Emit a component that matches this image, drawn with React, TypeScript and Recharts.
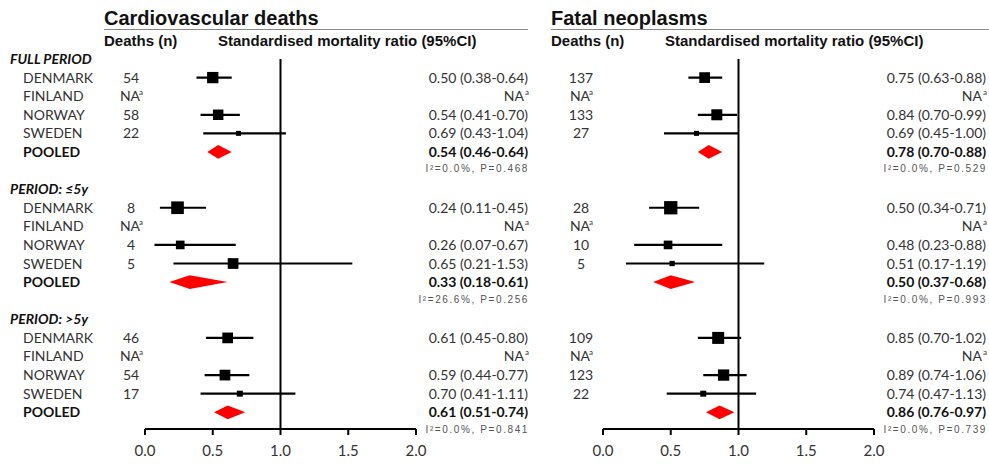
import React from 'react';
import { ComposedChart, Scatter, Area, XAxis, YAxis, ZAxis, ErrorBar, ReferenceLine } from 'recharts';

const countries = ['DENMARK', 'FINLAND', 'NORWAY', 'SWEDEN'];
const periods = ['FULL PERIOD', 'PERIOD: \u22645y', 'PERIOD: >5y'];
const xTicks = [0, 0.5, 1, 1.5, 2];

// Cardiovascular deaths
const cvDeaths = [[54, null, 58, 22], [8, null, 4, 5], [46, null, 54, 17]];
const cvSmr = [[0.50, null, 0.54, 0.69], [0.24, null, 0.26, 0.65], [0.61, null, 0.59, 0.70]];
const cvLow = [[0.38, null, 0.41, 0.43], [0.11, null, 0.07, 0.21], [0.45, null, 0.44, 0.41]];
const cvHigh = [[0.64, null, 0.70, 1.04], [0.45, null, 0.67, 1.53], [0.80, null, 0.77, 1.11]];
const cvWeight = [[128, 0, 110, 25], [160, 0, 75, 115], [115, 0, 115, 36]];
const cvPooled = [0.54, 0.33, 0.61];
const cvPooledLow = [0.46, 0.18, 0.51];
const cvPooledHigh = [0.64, 0.61, 0.74];
const cvI2 = ['0.0', '26.6', '0.0'];
const cvP = ['0.468', '0.256', '0.841'];

// Fatal neoplasms
const fnDeaths = [[137, null, 133, 27], [28, null, 10, 5], [109, null, 123, 22]];
const fnSmr = [[0.75, null, 0.84, 0.69], [0.50, null, 0.48, 0.51], [0.85, null, 0.89, 0.74]];
const fnLow = [[0.63, null, 0.70, 0.45], [0.34, null, 0.23, 0.17], [0.70, null, 0.74, 0.47]];
const fnHigh = [[0.88, null, 0.99, 1.00], [0.71, null, 0.88, 1.19], [1.02, null, 1.06, 1.13]];
const fnWeight = [[115, 0, 121, 25], [177, 0, 75, 28], [144, 0, 128, 36]];
const fnPooled = [0.78, 0.50, 0.86];
const fnPooledLow = [0.70, 0.37, 0.76];
const fnPooledHigh = [0.88, 0.68, 0.97];
const fnI2 = ['0.0', '0.0', '0.0'];
const fnP = ['0.529', '0.993', '0.739'];

const FONT = 'Lato, "Open Sans", sans-serif';
const HEAD_FONT = '"Liberation Sans", Arial, sans-serif';
const ROWS_PER_GROUP = 7;
const rowTicks = Array.from({ length: 20 }, (_, i) => i);

type PanelData = {
  deaths: (number | null)[][];
  smr: (number | null)[][];
  low: (number | null)[][];
  high: (number | null)[][];
  weight: number[][];
  pooled: number[];
  pooledLow: number[];
  pooledHigh: number[];
  i2: string[];
  p: string[];
};

const fmt = (v: number) => v.toFixed(2);

function buildRows(d: PanelData) {
  const rows: any[] = [];
  periods.forEach((per, g) => {
    const base = g * ROWS_PER_GROUP;
    rows.push({ row: base, kind: 'header', label: per });
    countries.forEach((c, k) => {
      const s = d.smr[g][k];
      rows.push({
        row: base + 1 + k,
        kind: 'country',
        label: c,
        deaths: d.deaths[g][k],
        text: s == null ? null : `${fmt(s)} (${fmt(d.low[g][k] as number)}-${fmt(d.high[g][k] as number)})`,
      });
    });
    rows.push({
      row: base + 5,
      kind: 'pooled',
      label: 'POOLED',
      text: `${fmt(d.pooled[g])} (${fmt(d.pooledLow[g])}-${fmt(d.pooledHigh[g])})`,
      stat: `I\u00B2=${d.i2[g]}%, P=${d.p[g]}`,
    });
  });
  return rows;
}

function buildPoints(d: PanelData) {
  const pts: any[] = [];
  periods.forEach((_, g) => {
    countries.forEach((__, k) => {
      const s = d.smr[g][k];
      if (s == null) return;
      pts.push({
        x: s,
        y: g * ROWS_PER_GROUP + 1 + k,
        z: d.weight[g][k],
        err: [s - (d.low[g][k] as number), (d.high[g][k] as number) - s],
      });
    });
  });
  return pts;
}

function buildDiamonds(d: PanelData) {
  return periods.map((_, g) => {
    const r = g * ROWS_PER_GROUP + 5;
    const h = 0.37;
    return [
      { x: d.pooledLow[g], r: [r, r] },
      { x: d.pooled[g], r: [r - h, r + h] },
      { x: d.pooledHigh[g], r: [r, r] },
    ];
  });
}

type Cols = { label?: number; header?: number; deaths: number; value: number };

function makeTick(rows: any[], cols: Cols) {
  return (props: any) => {
    const { y, payload } = props;
    const r = rows.find((rr) => rr.row === payload.value);
    if (!r) return <g />;
    const items: React.ReactNode[] = [];
    if (r.kind === 'header' && cols.header != null) {
      items.push(
        <text key="h" x={cols.header} y={y} dy={5} fontFamily={FONT} fontSize={14} fontWeight={700} fontStyle="italic" fill="#111">
          {r.label}
        </text>
      );
    }
    if (r.kind !== 'header' && cols.label != null) {
      items.push(
        <text key="l" x={cols.label} y={y} dy={5} fontFamily={FONT} fontSize={14} fontWeight={r.kind === 'pooled' ? 700 : 400} fill={r.kind === 'pooled' ? '#111' : '#333'}>
          {r.label}
        </text>
      );
    }
    if (r.kind === 'country') {
      if (r.deaths == null) {
        items.push(
          <g key="d">
            <text x={cols.deaths - 1} y={y} dy={5} textAnchor="middle" fontFamily={FONT} fontSize={14} fill="#333">NA</text>
            <text x={cols.deaths + 8} y={y} dy={-1} fontFamily={FONT} fontSize={8} fill="#333">a</text>
          </g>
        );
      } else {
        items.push(
          <text key="d" x={cols.deaths} y={y} dy={5} textAnchor="middle" fontFamily={FONT} fontSize={14} fill="#333">
            {r.deaths}
          </text>
        );
      }
      if (r.text == null) {
        items.push(
          <g key="v">
            <text x={cols.value - 4} y={y} dy={5} textAnchor="end" fontFamily={FONT} fontSize={14} fill="#333">NA</text>
            <text x={cols.value - 3} y={y} dy={-1} fontFamily={FONT} fontSize={8} fill="#333">a</text>
          </g>
        );
      } else {
        items.push(
          <text key="v" x={cols.value} y={y} dy={5} textAnchor="end" fontFamily={FONT} fontSize={14} fill="#333">
            {r.text}
          </text>
        );
      }
    }
    if (r.kind === 'pooled') {
      items.push(
        <text key="v" x={cols.value} y={y} dy={5} textAnchor="end" fontFamily={FONT} fontSize={14} fontWeight={700} fill="#111">
          {r.text}
        </text>
      );
      items.push(
        <text key="s" x={cols.value + 1} y={y + 17} dy={3.5} textAnchor="end" fontFamily={HEAD_FONT} fontSize={10} letterSpacing={1.6} fill="#555">
          {r.stat}
        </text>
      );
    }
    return <g>{items}</g>;
  };
}

function Panel({ data, width, left, right, cols }: { data: PanelData; width: number; left: number; right: number; cols: Cols }) {
  const rows = buildRows(data);
  const points = buildPoints(data);
  const diamonds = buildDiamonds(data);
  return (
    <ComposedChart width={width} height={466} margin={{ top: 59, right, bottom: 7, left: 0 }}>
      <XAxis
        type="number"
        dataKey="x"
        domain={[0, 2]}
        ticks={xTicks}
        allowDataOverflow
        tickFormatter={(v: number) => v.toFixed(1)}
        axisLine={{ stroke: '#000', strokeWidth: 2 }}
        tickLine={{ stroke: '#000', strokeWidth: 2 }}
        tickSize={6}
        tickMargin={10}
        height={30}
        tick={{ fill: '#333', fontSize: 15, fontFamily: FONT }}
      />
      <YAxis
        type="number"
        dataKey="y"
        domain={[0, 19.9]}
        reversed
        allowDataOverflow
        ticks={rowTicks}
        interval={0}
        width={left}
        axisLine={false}
        tickLine={false}
        tick={makeTick(rows, cols)}
      />
      <ZAxis type="number" dataKey="z" domain={[0, 200]} range={[0, 200]} />
      <ReferenceLine x={1} stroke="#000" strokeWidth={2} />
      {diamonds.map((d, i) => (
        <Area
          key={i}
          data={d}
          dataKey="r"
          type="linear"
          fill="#ff0000"
          fillOpacity={1}
          stroke="none"
          dot={false}
          activeDot={false}
          isAnimationActive={false}
        />
      ))}
      <Scatter data={points} shape="square" fill="#000" isAnimationActive={false}>
        <ErrorBar dataKey="err" direction="x" width={0} stroke="#000" strokeWidth={2.2} style={{ strokeWidth: 2.2 }} />
      </Scatter>
    </ComposedChart>
  );
}

const cvData: PanelData = {
  deaths: cvDeaths, smr: cvSmr, low: cvLow, high: cvHigh, weight: cvWeight,
  pooled: cvPooled, pooledLow: cvPooledLow, pooledHigh: cvPooledHigh, i2: cvI2, p: cvP,
};
const fnData: PanelData = {
  deaths: fnDeaths, smr: fnSmr, low: fnLow, high: fnHigh, weight: fnWeight,
  pooled: fnPooled, pooledLow: fnPooledLow, pooledHigh: fnPooledHigh, i2: fnI2, p: fnP,
};

export default function App() {
  return (
    <div style={{ position: 'absolute', left: 0, top: 0, width: 989, height: 466, background: '#fff', overflow: 'hidden' }}>
      <div style={{ position: 'absolute', left: 0, top: 0 }}>
        <Panel data={cvData} width={540} left={145} right={124} cols={{ header: 10, label: 23, deaths: 131, value: 528 }} />
      </div>
      <div style={{ position: 'absolute', left: 540, top: 0 }}>
        <Panel data={fnData} width={449} left={63} right={115} cols={{ deaths: 41, value: 446 }} />
      </div>
      <svg width={989} height={60} style={{ position: 'absolute', left: 0, top: 0, pointerEvents: 'none' }}>
        <text x={104} y={25} fontFamily={HEAD_FONT} fontSize={20} fontWeight={700} fill="#111">Cardiovascular deaths</text>
        <line x1={104} x2={528} y1={29.5} y2={29.5} stroke="#888" strokeWidth={1.2} />
        <text x={104} y={46} fontFamily={HEAD_FONT} fontSize={15} fontWeight={700} fill="#111">Deaths (n)</text>
        <text x={218} y={46} fontFamily={HEAD_FONT} fontSize={15} fontWeight={700} fill="#111">Standardised mortality ratio (95%CI)</text>
        <text x={551} y={25} fontFamily={HEAD_FONT} fontSize={20} fontWeight={700} fill="#111">Fatal neoplasms</text>
        <line x1={551} x2={989} y1={29.5} y2={29.5} stroke="#888" strokeWidth={1.2} />
        <text x={551} y={46} fontFamily={HEAD_FONT} fontSize={15} fontWeight={700} fill="#111">Deaths (n)</text>
        <text x={665} y={46} fontFamily={HEAD_FONT} fontSize={15} fontWeight={700} fill="#111">Standardised mortality ratio (95%CI)</text>
      </svg>
    </div>
  );
}
